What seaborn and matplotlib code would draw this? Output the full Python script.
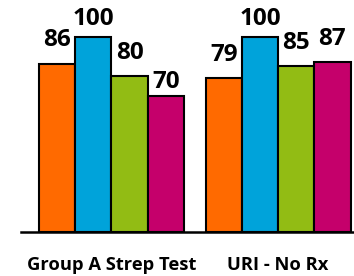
import pandas as pd
import matplotlib
matplotlib.use("Agg")
import matplotlib.pyplot as plt
import seaborn as sns

# Data
groups = ["Group A Strep Test", "URI - No Rx"]
series = ["Series 1", "Series 2", "Series 3", "Series 4"]
values_strep = [86, 100, 80, 70]
values_uri = [79, 100, 85, 87]

colors = ["#FF6A00", "#00A3DA", "#92BC14", "#C5006B"]
# vertical gap (pixels) between bar top and its label, per bar
label_gap_strep = [12, 6, 11, 2]
label_gap_uri = [11, 6, 11, 11]

rows = []
for s, v in zip(series, values_strep):
    rows.append({"group": groups[0], "series": s, "value": v})
for s, v in zip(series, values_uri):
    rows.append({"group": groups[1], "series": s, "value": v})
df = pd.DataFrame(rows)

sns.set_style("white")
plt.rcParams["font.family"] = ["Open Sans", "DejaVu Sans"]

W, H = 354, 276
fig = plt.figure(figsize=(W / 100, H / 100), dpi=100)
ax = fig.add_axes([21 / W, 44 / H, 333 / W, 232 / H])

sns.barplot(data=df, x="group", y="value", hue="series", palette=colors,
            saturation=1, width=0.87, edgecolor="black", linewidth=1.5,
            legend=False, errorbar=None, ax=ax)

ax.set_xlim(-0.543, 1.456)
ax.set_ylim(0, 119)

# value labels
gaps = label_gap_strep + label_gap_uri
bars = []
for container in ax.containers:
    bars.extend(container.patches)
bars.sort(key=lambda p: p.get_x())
for bar, gap in zip(bars, gaps):
    ax.annotate(f"{bar.get_height():.0f}",
                (bar.get_x() + bar.get_width() / 2, bar.get_height()),
                xytext=(0, gap * 0.72), textcoords="offset points",
                ha="center", va="bottom", fontsize=17.5, fontweight="bold",
                color="black", annotation_clip=False)

for side in ["left", "right", "top"]:
    ax.spines[side].set_visible(False)
ax.spines["bottom"].set_color("black")
ax.spines["bottom"].set_linewidth(1.8)
ax.set_yticks([])
ax.set_xlabel("")
ax.set_ylabel("")
ax.tick_params(axis="x", length=0, pad=17, colors="black")
for lbl in ax.get_xticklabels():
    lbl.set_fontweight("bold")
    lbl.set_fontsize(13.2)

fig.savefig("out.png", dpi=100)
